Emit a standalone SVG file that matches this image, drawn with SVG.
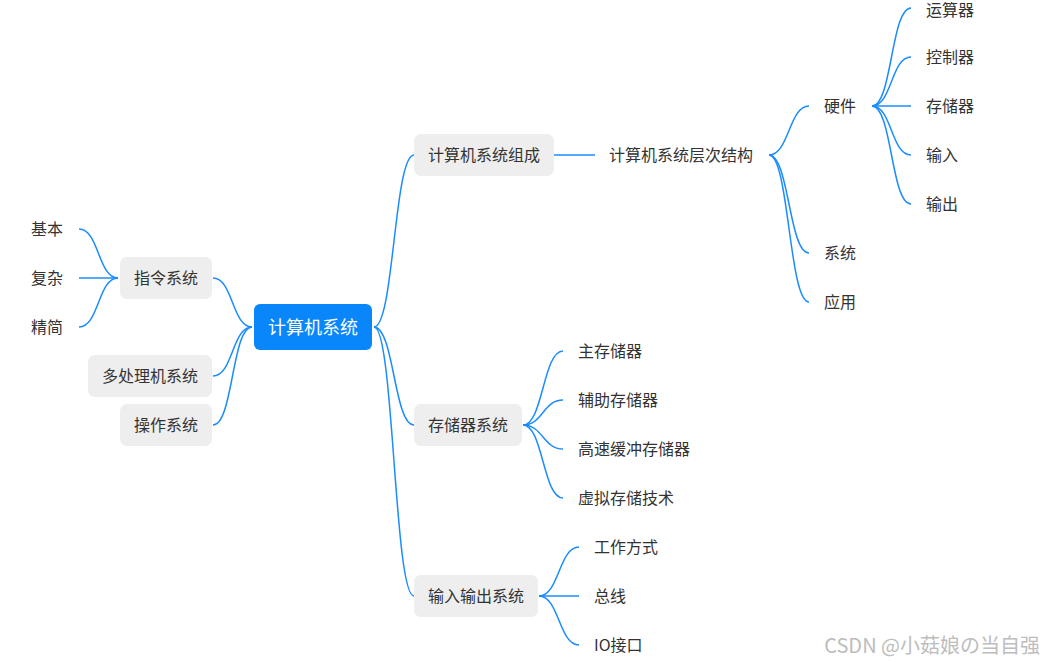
<svg xmlns="http://www.w3.org/2000/svg" width="1043" height="662" viewBox="0 0 1043 662">
<style>
text{font-family:"Noto Sans CJK SC","Noto Sans",sans-serif;font-size:16px;fill:#333;dominant-baseline:central}
.c{text-anchor:middle}
.box{fill:#eeeeee}
.ln{fill:none;stroke:#1a8cff;stroke-width:1.5}
</style>
<rect width="1043" height="662" fill="#fff"/>
<g id="connectors">
<path class="ln" d="M252 327 C232 327 233 278 213 278"/>
<path class="ln" d="M252 327 C232 327 233 376 213 376"/>
<path class="ln" d="M252 327 C232 327 233 425 213 425"/>
<path class="ln" d="M118 278 C98 278 99 229 79 229"/>
<path class="ln" d="M118 278 L79 278"/>
<path class="ln" d="M118 278 C98 278 99 327 79 327"/>
<path class="ln" d="M374 327 C394 327 394 155 414 155"/>
<path class="ln" d="M374 327 C394 327 394 425 414 425"/>
<path class="ln" d="M374 327 C394 327 394 596 414 596"/>
<path class="ln" d="M554 155 L595 155"/>
<path class="ln" d="M769 155 C789 155 789 106 809 106"/>
<path class="ln" d="M769 155 C789 155 789 253 809 253"/>
<path class="ln" d="M769 155 C789 155 789 302 809 302"/>
<path class="ln" d="M872 106 C892 106 891 8 911 8"/>
<path class="ln" d="M872 106 C892 106 891 57 911 57"/>
<path class="ln" d="M872 106 L911 106"/>
<path class="ln" d="M872 106 C892 106 891 155 911 155"/>
<path class="ln" d="M872 106 C892 106 891 204 911 204"/>
<path class="ln" d="M523 425 C543 425 543 351 563 351"/>
<path class="ln" d="M523 425 C543 425 543 400 563 400"/>
<path class="ln" d="M523 425 C543 425 543 449 563 449"/>
<path class="ln" d="M523 425 C543 425 543 498 563 498"/>
<path class="ln" d="M539 596 C559 596 559 547 579 547"/>
<path class="ln" d="M539 596 L579 596"/>
<path class="ln" d="M539 596 C559 596 559 645 579 645"/>
</g>
<g id="root"><rect x="254" y="304" width="118" height="46" rx="6" fill="#0a86fb"/><text class="c" x="313" y="326" style="fill:#fff;font-size:18px">计算机系统</text></g>
<g id="n-zhiling"><rect class="box" x="120" y="257" width="92" height="42" rx="7"/><text class="c" x="166" y="277">指令系统</text></g>
<g id="n-duochuli"><rect class="box" x="88" y="355" width="124" height="42" rx="7"/><text class="c" x="150" y="375">多处理机系统</text></g>
<g id="n-caozuo"><rect class="box" x="120" y="404" width="92" height="42" rx="7"/><text class="c" x="166" y="424">操作系统</text></g>
<g id="n-jiben"><text x="31" y="228">基本</text></g>
<g id="n-fuza"><text x="31" y="277">复杂</text></g>
<g id="n-jingjian"><text x="31" y="326">精简</text></g>
<g id="n-zucheng"><rect class="box" x="414" y="134" width="140" height="42" rx="7"/><text class="c" x="484" y="154">计算机系统组成</text></g>
<g id="n-cengci"><text x="609" y="154">计算机系统层次结构</text></g>
<g id="n-yingjian"><text x="824" y="105">硬件</text></g>
<g id="n-xitong"><text x="824" y="252">系统</text></g>
<g id="n-yingyong"><text x="824" y="301">应用</text></g>
<g id="n-yunsuan"><text x="926" y="9">运算器</text></g>
<g id="n-kongzhi"><text x="926" y="56">控制器</text></g>
<g id="n-cunchu"><text x="926" y="105">存储器</text></g>
<g id="n-shuru"><text x="926" y="154">输入</text></g>
<g id="n-shuchu"><text x="926" y="203">输出</text></g>
<g id="n-cunchuxt"><rect class="box" x="414" y="404" width="108" height="42" rx="7"/><text class="c" x="468" y="424">存储器系统</text></g>
<g id="n-zhucun"><text x="578" y="350">主存储器</text></g>
<g id="n-fuzhu"><text x="578" y="399">辅助存储器</text></g>
<g id="n-gaosu"><text x="578" y="448">高速缓冲存储器</text></g>
<g id="n-xuni"><text x="578" y="497">虚拟存储技术</text></g>
<g id="n-io"><rect class="box" x="414" y="575" width="124" height="42" rx="7"/><text class="c" x="476" y="595">输入输出系统</text></g>
<g id="n-gongzuo"><text x="594" y="546">工作方式</text></g>
<g id="n-zongxian"><text x="594" y="595">总线</text></g>
<g id="n-iojk"><text x="594" y="644">IO接口</text></g>
<text x="1040" y="644" style="text-anchor:end;font-size:20px;fill:#bdbdbd">CSDN @小菇娘の当自强</text>
</svg>
